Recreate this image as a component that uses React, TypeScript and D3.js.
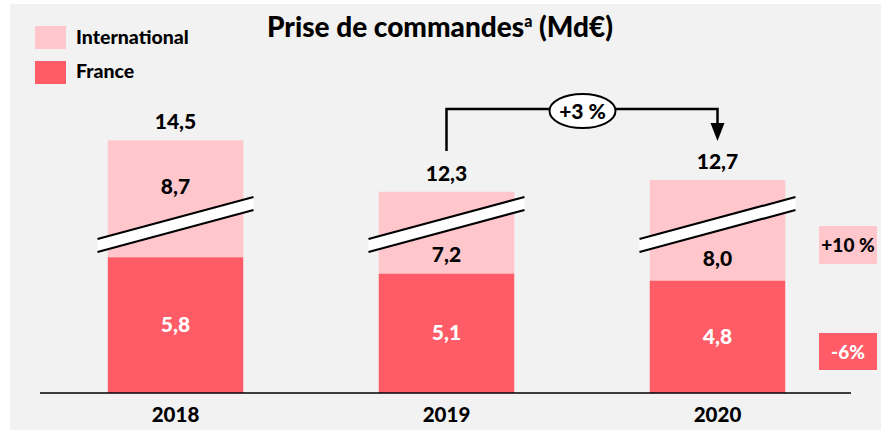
import React from "react";
import * as d3 from "d3";

const years = ["2018", "2019", "2020"];
const france = [5.8, 5.1, 4.8];
const international = [8.7, 7.2, 8.0];
const totals = ["14,5", "12,3", "12,7"];
const franceLabels = ["5,8", "5,1", "4,8"];
const intlLabels = ["8,7", "7,2", "8,0"];
const legendItems = ["International", "France"];
const growthLabel = "+3 %";
const intlGrowth = "+10 %";
const franceGrowth = "-6%";
const hiddenByBreak = 3.7;

const W = 881;
const H = 430;
const PINK = "#FFC7CC";
const RED = "#FF5C67";
const BG = "#F2F2F2";
const FONT = "Lato, 'Open Sans', sans-serif";

export default function App() {
  const x = d3.scaleBand<string>().domain(years).range([40, 853]).paddingInner(0.5).paddingOuter(0.25);
  const y = d3.scaleLinear().domain([0, 11]).range([393, 393 - 11 * 23.4]);
  const bw = x.bandwidth();
  const cx = (i: number) => (x(years[i]) as number) + bw / 2;

  // break band geometry (fixed slope across bars)
  const bandHalf = 78;
  const bandLeftTop = 239;
  const bandRightTop = 197;
  const bandThick = 13;
  const bandMidTop = (bandLeftTop + bandRightTop) / 2;

  const arrowY = 109;
  const a0 = cx(1);
  const a1 = cx(2);
  const ellCx = (a0 + a1) / 2 + 0.5;

  return (
    <svg width={W} height={H} style={{ position: "absolute", left: 0, top: 0 }} fontFamily={FONT}>
      <rect x={10} y={4} width={W - 10} height={H - 4} fill={BG} />

      {/* Title */}
      <text x={440} y={37} textAnchor="middle" fontSize={28} fontWeight={900} fill="#000">
        Prise de commandes
        <tspan dy={-10} fontSize={16}>a</tspan>
        <tspan dy={10}> (Md€)</tspan>
      </text>

      {/* Legend */}
      {legendItems.map((name, i) => (
        <g key={name}>
          <rect x={35} y={26 + i * 35} width={31} height={23} fill={i === 0 ? PINK : RED} />
          <text x={76} y={44 + i * 34} fontSize={19.5} fontWeight={900} fill="#000">
            {name}
          </text>
        </g>
      ))}

      {/* Bars */}
      {years.map((yr, i) => {
        const x0 = x(yr) as number;
        const frTop = y(france[i]);
        const top = y(france[i] + international[i] - hiddenByBreak);
        const c = cx(i);
        const bandBottomMid = bandMidTop + bandThick;
        const intlAbove = top < bandMidTop - 50;
        const intlLabelY = intlAbove ? bandMidTop - 24 : (bandBottomMid + frTop) / 2 + 10;
        const lx = c - bandHalf;
        const rx = c + bandHalf;
        return (
          <g key={yr}>
            <rect x={x0} y={top} width={bw} height={frTop - top} fill={PINK} />
            <rect x={x0} y={frTop} width={bw} height={y(0) - frTop} fill={RED} />
            <polygon
              points={`${lx},${bandLeftTop} ${rx},${bandRightTop} ${rx},${bandRightTop + bandThick} ${lx},${bandLeftTop + bandThick}`}
              fill="#fff"
            />
            <line x1={lx} y1={bandLeftTop} x2={rx} y2={bandRightTop} stroke="#000" strokeWidth={2.2} />
            <line x1={lx} y1={bandLeftTop + bandThick} x2={rx} y2={bandRightTop + bandThick} stroke="#000" strokeWidth={2.2} />
            <text x={c} y={top - 11} textAnchor="middle" fontSize={21} fontWeight={900} fill="#000">
              {totals[i]}
            </text>
            <text x={c} y={intlLabelY} textAnchor="middle" fontSize={21} fontWeight={900} fill="#000">
              {intlLabels[i]}
            </text>
            <text x={c} y={(frTop + y(0)) / 2 + 7} textAnchor="middle" fontSize={21} fontWeight={900} fill="#fff">
              {franceLabels[i]}
            </text>
            <text x={c} y={422} textAnchor="middle" fontSize={20.5} fontWeight={900} fill="#000">
              {yr}
            </text>
          </g>
        );
      })}

      {/* Axis */}
      <line x1={40} x2={851} y1={y(0)} y2={y(0)} stroke="#000" strokeWidth={1.5} />

      {/* Growth arrow */}
      <path
        d={`M${a0},151 V${arrowY} H${a1} V125`}
        fill="none"
        stroke="#000"
        strokeWidth={2.5}
      />
      <polygon points={`${a1 - 7},123 ${a1 + 7},123 ${a1},141`} fill="#000" />
      <ellipse cx={ellCx} cy={111} rx={33} ry={17} fill="#fff" stroke="#000" strokeWidth={2} />
      <text x={ellCx} y={118.5} textAnchor="middle" fontSize={21} fontWeight={900} fill="#000">
        {growthLabel}
      </text>

      {/* Side growth boxes */}
      <rect x={819} y={226} width={58} height={38} fill={PINK} />
      <text x={848} y={252} textAnchor="middle" fontSize={19} fontWeight={900} fill="#000">
        {intlGrowth}
      </text>
      <rect x={819} y={333} width={58} height={37} fill={RED} />
      <text x={848} y={359} textAnchor="middle" fontSize={19} fontWeight={900} fill="#fff">
        {franceGrowth}
      </text>
    </svg>
  );
}
